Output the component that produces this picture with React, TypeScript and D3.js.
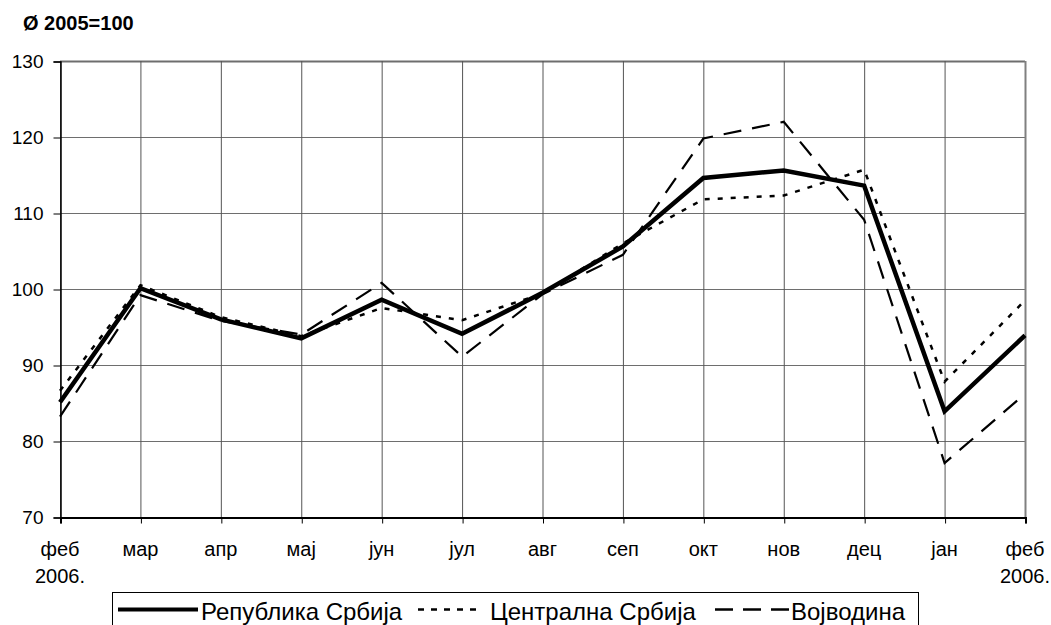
import React, { useEffect, useRef } from "react";
import * as d3 from "d3";

// months (feb 2006 .. feb 2006 of next year per original)
const months = ["феб", "мар", "апр", "мај", "јун", "јул", "авг", "сеп", "окт", "нов", "дец", "јан", "феб"];
const yearLabels = ["2006.", "", "", "", "", "", "", "", "", "", "", "", "2006."];
const yTicks = [70, 80, 90, 100, 110, 120, 130];

const republika = [85.1, 100.1, 96.0, 93.5, 98.6, 94.1, 99.5, 105.6, 114.6, 115.6, 113.6, 83.9, 93.9];
const centralna = [86.6, 100.5, 96.3, 93.8, 97.5, 95.9, 99.4, 106.0, 111.8, 112.3, 115.7, 87.8, 98.5];
const vojvodina = [83.2, 99.2, 95.8, 94.0, 100.8, 91.1, 99.3, 104.5, 119.8, 122.0, 109.1, 77.1, 86.2];

const seriesNames = ["Република Србија", "Централна Србија", "Војводина"];

export default function App() {
  const ref = useRef<SVGSVGElement>(null);

  useEffect(() => {
    const W = 1051, H = 625;
    const left = 60, right = 1025, top = 61, bottom = 517;
    const svg = d3.select(ref.current);
    svg.selectAll("*").remove();
    svg.attr("width", W).attr("height", H);

    const font = "'Liberation Sans', Arial, sans-serif";

    const x = d3.scalePoint<number>().domain(d3.range(months.length)).range([left, right]);
    const y = d3.scaleLinear().domain([70, 130]).range([bottom, top]);

    // title
    svg.append("text")
      .attr("x", 23).attr("y", 30)
      .attr("font-family", font).attr("font-size", 20).attr("font-weight", "bold")
      .text("Ø 2005=100");

    const g = svg.append("g");

    // horizontal grid
    g.selectAll(".hgrid").data(yTicks).join("line")
      .attr("x1", left).attr("x2", right)
      .attr("y1", (d) => y(d) + 0.5).attr("y2", (d) => y(d) + 0.5)
      .attr("stroke", "#6e6e6e").attr("stroke-width", (d) => (d === 130 ? 2 : 1));

    // vertical grid
    g.selectAll(".vgrid").data(d3.range(months.length)).join("line")
      .attr("x1", (d) => x(d)! + 0.5).attr("x2", (d) => x(d)! + 0.5)
      .attr("y1", top).attr("y2", bottom)
      .attr("stroke", (d) => (d === months.length - 1 ? "#808080" : "#555"))
      .attr("stroke-width", (d) => (d === months.length - 1 ? 2 : 1));

    // axes
    const yAxis = g.append("g").attr("transform", `translate(${left + 0.5},0.5)`)
      .call(d3.axisLeft(y).tickValues(yTicks).tickSize(7).tickPadding(10));
    yAxis.select(".domain").attr("stroke", "#000").attr("stroke-width", 1.5);
    yAxis.selectAll("text").attr("font-family", font).attr("font-size", 19).attr("fill", "#000");

    const xAxis = g.append("g").attr("transform", `translate(0.5,${bottom + 0.5})`)
      .call(d3.axisBottom(x).tickSize(6).tickFormat(() => ""));
    xAxis.select(".domain").attr("stroke", "#000").attr("stroke-width", 2);

    g.selectAll(".mlab").data(months).join("text")
      .attr("x", (_, i) => x(i)!).attr("y", 556)
      .attr("text-anchor", "middle")
      .attr("font-family", font).attr("font-size", 20)
      .text((d) => d);
    g.selectAll(".ylab").data(yearLabels).join("text")
      .attr("x", (_, i) => x(i)!).attr("y", 583)
      .attr("text-anchor", "middle")
      .attr("font-family", font).attr("font-size", 20)
      .text((d) => d);

    const line = d3.line<number>().x((_, i) => x(i)!).y((d) => y(d));

    const styles = [
      { data: centralna, width: 2.5, dash: "5,8" },
      { data: vojvodina, width: 2.2, dash: "18,11" },
      { data: republika, width: 4.5, dash: null as string | null },
    ];
    styles.forEach((s) => {
      g.append("path").datum(s.data)
        .attr("d", line)
        .attr("fill", "none")
        .attr("stroke", "#000")
        .attr("stroke-width", s.width)
        .attr("stroke-linejoin", "miter")
        .attr("stroke-dasharray", s.dash);
    });

    // legend
    const lg = svg.append("g");
    lg.append("rect")
      .attr("x", 112.5).attr("y", 592.5).attr("width", 806).attr("height", 50)
      .attr("fill", "#fff").attr("stroke", "#000").attr("stroke-width", 1);
    const items = [
      { x1: 118, x2: 198, tx: 201, width: 4, dash: null as string | null },
      { x1: 418, x2: 478, tx: 490, width: 2.5, dash: "6,7" },
      { x1: 715, x2: 789, tx: 791, width: 2.5, dash: "18,10" },
    ];
    items.forEach((it, i) => {
      lg.append("line")
        .attr("x1", it.x1).attr("x2", it.x2).attr("y1", 609.5).attr("y2", 609.5)
        .attr("stroke", "#000").attr("stroke-width", it.width)
        .attr("stroke-dasharray", it.dash);
      lg.append("text")
        .attr("x", it.tx).attr("y", 620)
        .attr("font-family", font).attr("font-size", 24)
        .text(seriesNames[i]);
    });
  }, []);

  return <svg ref={ref} style={{ position: "absolute", left: 0, top: 0 }} />;
}
